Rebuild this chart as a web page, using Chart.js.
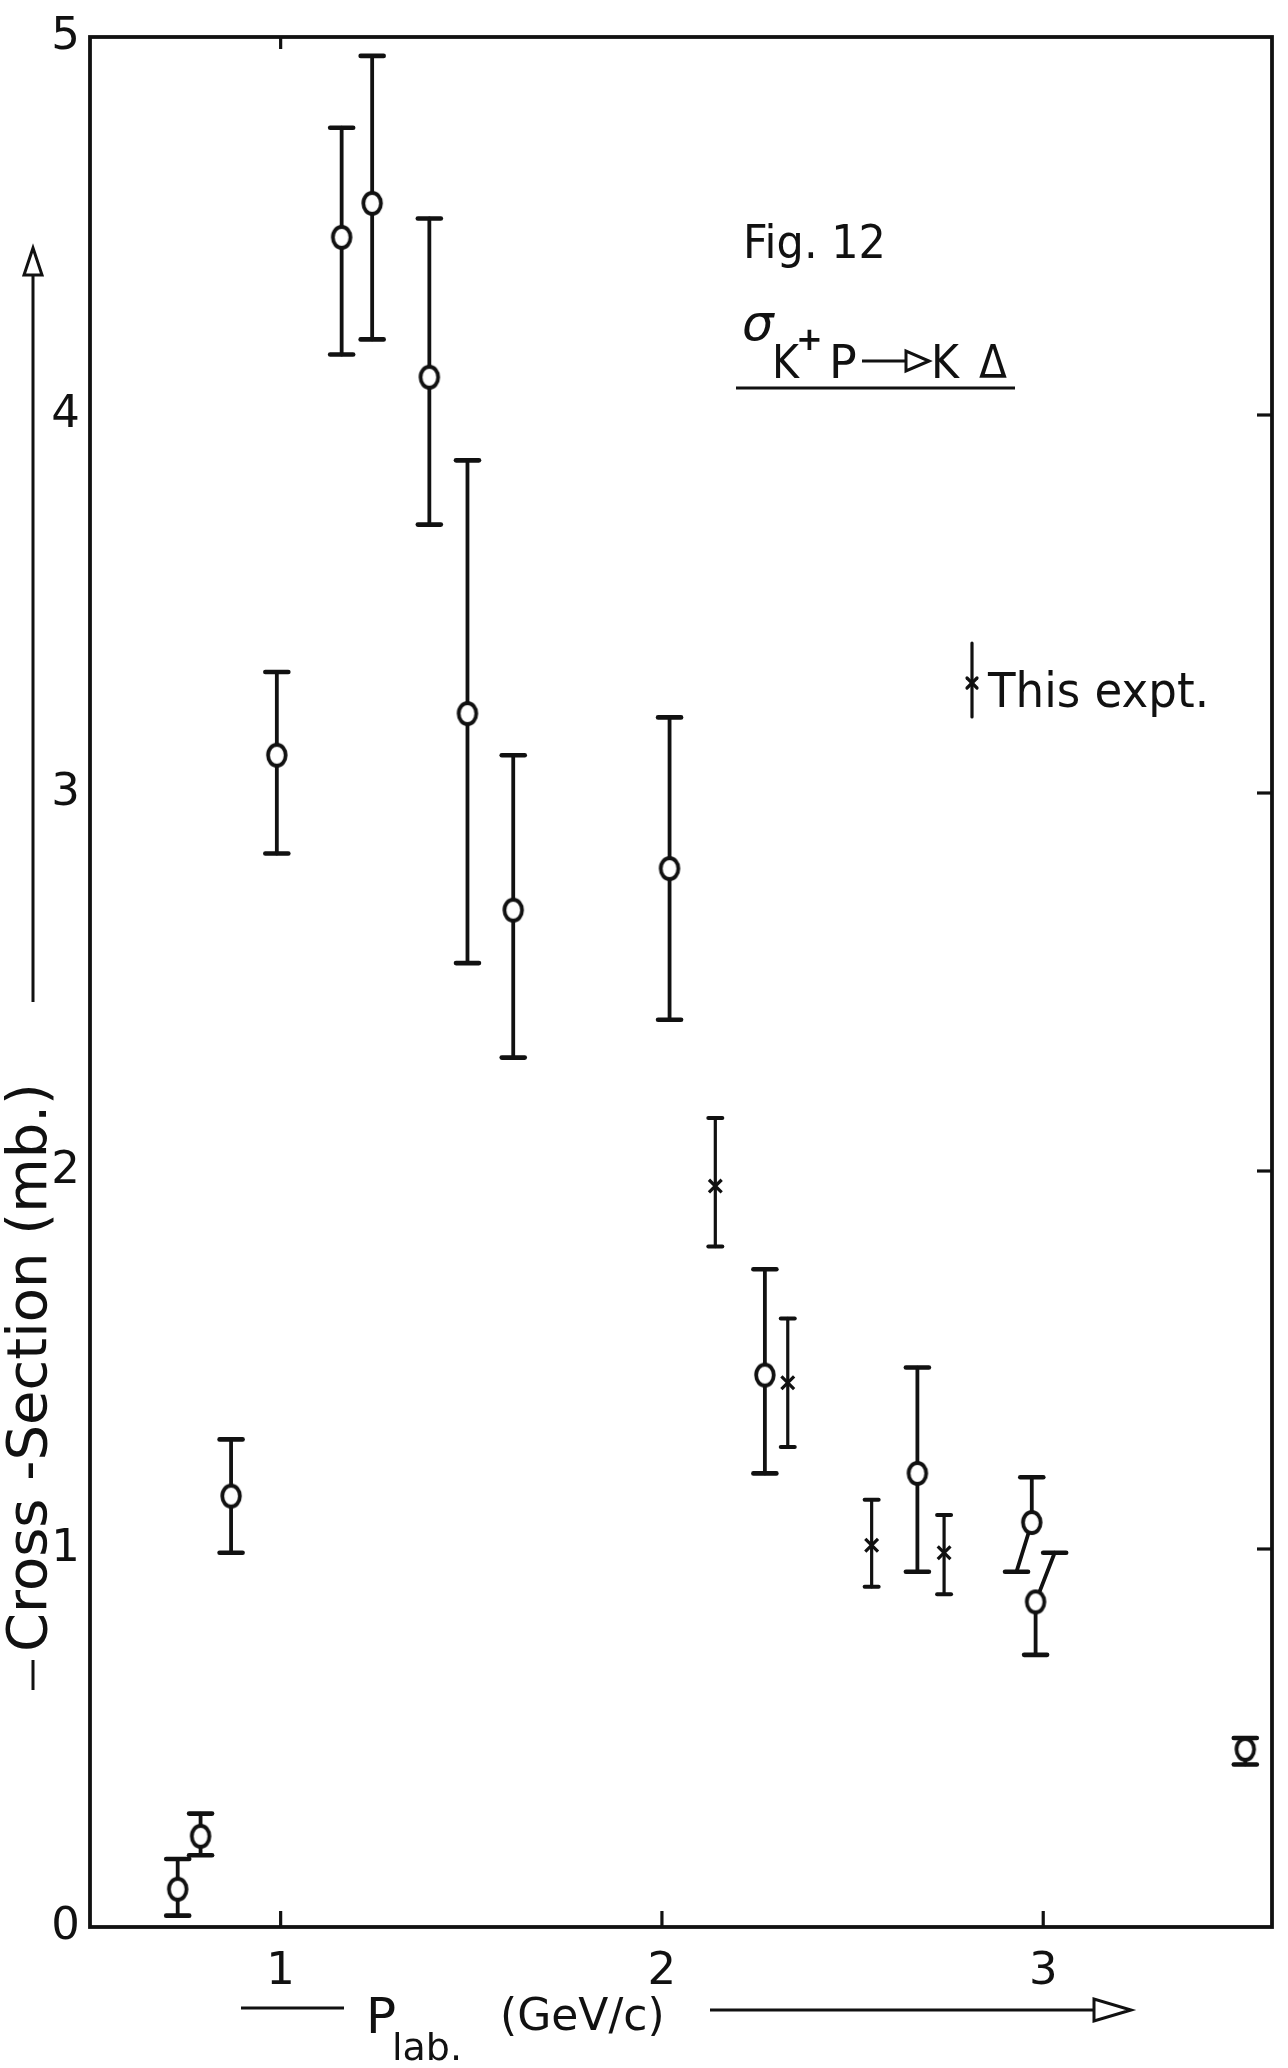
<!DOCTYPE html>
<html>
<head>
<meta charset="utf-8">
<title>K+p cross-section</title>
<script src="https://cdn.jsdelivr.net/npm/chart.js@4.4.1/dist/chart.umd.min.js"></script>
<style>
  html, body { margin: 0; padding: 0; background: #fff; }
  #wrap { width: 1288px; height: 2068px; }
</style>
</head>
<body>
<div id="wrap"><canvas id="fig" width="1288" height="2068"></canvas></div>
<script>
'use strict';

// ── Data: sigma(K+ p -> K Delta) in mb against P_lab in GeV/c ──
// earlier measurements (open circles)
const circP   = [0.73, 0.79, 0.87, 0.99, 1.16, 1.24, 1.39, 1.49, 1.61, 2.02, 2.27, 2.67, 2.97, 2.98, 3.53];
const circSig = [0.10, 0.24, 1.14, 3.10, 4.47, 4.56, 4.10, 3.21, 2.69, 2.80, 1.46, 1.20, 1.07, 0.86, 0.47];
const circLo  = [0.03, 0.19, 0.99, 2.84, 4.16, 4.20, 3.71, 2.55, 2.30, 2.40, 1.20, 0.94, 0.94, 0.72, 0.43];
const circHi  = [0.18, 0.30, 1.29, 3.32, 4.76, 4.95, 4.52, 3.88, 3.10, 3.20, 1.74, 1.48, 1.19, 0.99, 0.50];
// the two points at 3 GeV/c overlap, so one bar end of each is pushed sideways
const circLoCapP = [null, null, null, null, null, null, null, null, null, null, null, null, 2.93, null, null];
const circHiCapP = [null, null, null, null, null, null, null, null, null, null, null, null, null, 3.03, null];

// this experiment (crosses)
const crossP   = [2.14, 2.33, 2.55, 2.74];
const crossSig = [1.96, 1.44, 1.01, 0.99];
const crossLo  = [1.80, 1.27, 0.90, 0.88];
const crossHi  = [2.14, 1.61, 1.13, 1.09];

// axes
const xTicks      = [1, 2, 3];
const xTopTicks   = [1];
const yTicks      = [0, 1, 2, 3, 4, 5];
const yRightTicks = [1, 2, 3, 4];

// ── Style ─────────────────────────────────────────────────
const INK  = '#111';
const FONT = '"DejaVu Sans", "Liberation Sans", sans-serif';

function ring(rx, ry, lw) {
  const c = document.createElement('canvas');
  c.width  = Math.ceil(2 * rx + lw + 2);
  c.height = Math.ceil(2 * ry + lw + 2);
  const g = c.getContext('2d');
  g.fillStyle = '#fff';
  g.strokeStyle = INK;
  g.lineWidth = lw;
  g.beginPath();
  g.ellipse(c.width / 2, c.height / 2, rx, ry, 0, 0, Math.PI * 2);
  g.fill();
  g.stroke();
  return c;
}

function seg(ctx, x1, y1, x2, y2) {
  ctx.beginPath();
  ctx.moveTo(x1, y1);
  ctx.lineTo(x2, y2);
  ctx.stroke();
}

// open arrow head, pointing along (dx, dy)
function arrowHead(ctx, tx, ty, dx, dy, len, half) {
  const bx = tx - dx * len, by = ty - dy * len;
  ctx.beginPath();
  ctx.moveTo(tx, ty);
  ctx.lineTo(bx - dy * half, by + dx * half);
  ctx.lineTo(bx + dy * half, by - dx * half);
  ctx.closePath();
  ctx.stroke();
}

// ── Plugins ───────────────────────────────────────────────
const frame = {
  id: 'frame',
  beforeDatasetsDraw(chart) {
    const { ctx, chartArea: a, scales: { x, y } } = chart;
    ctx.save();
    ctx.strokeStyle = INK;
    ctx.lineWidth = 3.8;
    ctx.lineCap = 'square';
    ctx.strokeRect(a.left, a.top, a.width, a.height);
    ctx.lineWidth = 3.2;
    ctx.lineCap = 'butt';
    xTicks.forEach(v => {
      const px = x.getPixelForValue(v);
      seg(ctx, px, a.bottom, px, a.bottom - 16);
    });
    xTopTicks.forEach(v => {
      const px = x.getPixelForValue(v);
      seg(ctx, px, a.top, px, a.top + 12);
    });
    yRightTicks.forEach(v => {
      const py = y.getPixelForValue(v);
      seg(ctx, a.right, py, a.right - 15, py);
    });
    ctx.restore();
  }
};

const errorBars = {
  id: 'errorBars',
  beforeDatasetsDraw(chart) {
    const { ctx, scales: { x, y } } = chart;
    ctx.save();
    ctx.strokeStyle = INK;
    ctx.lineCap = 'round';
    chart.data.datasets.forEach(ds => {
      const e = ds.err;
      if (!e) return;
      ds.data.forEach((pt, i) => {
        const px  = x.getPixelForValue(pt.x);
        const py  = y.getPixelForValue(pt.y);
        const loX = x.getPixelForValue(e.loCap[i] ?? pt.x);
        const hiX = x.getPixelForValue(e.hiCap[i] ?? pt.x);
        const loY = y.getPixelForValue(e.lo[i]);
        const hiY = y.getPixelForValue(e.hi[i]);
        ctx.lineWidth = e.width;
        seg(ctx, px, py, hiX, hiY);
        seg(ctx, px, py, loX, loY);
        ctx.lineWidth = e.width + 0.8;
        seg(ctx, hiX - e.cap, hiY, hiX + e.cap, hiY);
        seg(ctx, loX - e.cap, loY, loX + e.cap, loY);
      });
    });
    ctx.restore();
  }
};

const notes = {
  id: 'notes',
  afterDraw(chart) {
    const { ctx } = chart;
    ctx.save();
    ctx.fillStyle = INK;
    ctx.strokeStyle = INK;
    ctx.textBaseline = 'alphabetic';
    ctx.textAlign = 'left';

    // figure number and reaction
    ctx.font = `46px ${FONT}`;
    ctx.fillText('Fig. 12', 743, 258, 143);
    ctx.font = `italic 50px ${FONT}`;
    ctx.fillText('σ', 742, 340);
    ctx.font = `46px ${FONT}`;
    ctx.fillText('K', 772, 378, 27);
    ctx.fillText('P', 829, 378, 29);
    ctx.fillText('K', 931, 378, 28);
    ctx.fillText('Δ', 979, 378, 28);
    ctx.font = `bold 32px ${FONT}`;
    ctx.fillText('+', 796, 350);
    ctx.lineWidth = 3;
    seg(ctx, 862, 361, 906, 361);
    arrowHead(ctx, 929, 361, 1, 0, 23, 10);
    seg(ctx, 736, 388, 1015, 388);

    // key
    ctx.lineWidth = 3.2;
    ctx.lineCap = 'round';
    seg(ctx, 972, 643, 972, 717);
    seg(ctx, 967, 678, 977, 688);
    seg(ctx, 967, 688, 977, 678);
    ctx.font = `48px ${FONT}`;
    ctx.fillText('This expt.', 988, 707, 221);

    // x axis title
    ctx.lineCap = 'butt';
    ctx.lineWidth = 3;
    seg(ctx, 241, 2008, 344, 2008);
    ctx.font = `50px ${FONT}`;
    ctx.fillText('P', 366, 2033, 32);
    ctx.font = `38px ${FONT}`;
    ctx.fillText('lab.', 392, 2060, 70);
    ctx.font = `44px ${FONT}`;
    ctx.fillText('(GeV/c)', 500, 2030, 194);
    seg(ctx, 710, 2010, 1094, 2010);
    arrowHead(ctx, 1131, 2010, 1, 0, 37, 11);

    // y axis title
    seg(ctx, 33, 1690, 33, 1660);
    seg(ctx, 33, 1002, 33, 276);
    arrowHead(ctx, 33, 248, 0, -1, 27, 9);
    ctx.translate(31, 1652);
    ctx.rotate(-Math.PI / 2);
    ctx.textBaseline = 'middle';
    ctx.font = `56px ${FONT}`;
    ctx.fillText('Cross -Section (mb.)', 0, 0, 645);
    ctx.restore();
  }
};

// ── Chart ─────────────────────────────────────────────────
Chart.defaults.font.family = FONT;
Chart.defaults.color = INK;

const circPts  = circP.map((p, i) => ({ x: p, y: circSig[i] }));
const crossPts = crossP.map((p, i) => ({ x: p, y: crossSig[i] }));

new Chart(document.getElementById('fig'), {
  type: 'scatter',
  data: {
    datasets: [
      {
        label: 'Other expts.',
        data: circPts,
        pointStyle: ring(8.8, 10.5, 3.8),
        pointRadius: 10,
        err: { lo: circLo, hi: circHi, loCap: circLoCapP, hiCap: circHiCapP, width: 3.8, cap: 11.5 }
      },
      {
        label: 'This expt.',
        data: crossPts,
        pointStyle: 'crossRot',
        pointRadius: 9,
        borderWidth: 3.2,
        borderColor: INK,
        err: { lo: crossLo, hi: crossHi, loCap: [], hiCap: [], width: 3.2, cap: 7 }
      }
    ]
  },
  options: {
    responsive: false,
    animation: false,
    events: [],
    layout: { padding: { left: 0, top: 28, right: 16, bottom: 0 } },
    plugins: { legend: { display: false }, tooltip: { enabled: false } },
    scales: {
      x: {
        type: 'linear',
        min: 0.5,
        max: 3.6,
        afterFit: s => { s.height = 141; },
        afterBuildTicks: s => { s.ticks = xTicks.map(v => ({ value: v })); },
        grid: { display: false, drawTicks: false },
        border: { display: false },
        ticks: { padding: 18, font: { size: 45 }, color: INK, maxRotation: 0 }
      },
      y: {
        type: 'linear',
        min: 0,
        max: 5,
        afterFit: s => { s.width = 90; },
        afterBuildTicks: s => { s.ticks = yTicks.map(v => ({ value: v })); },
        grid: { display: false, drawTicks: false },
        border: { display: false },
        ticks: { padding: 10, font: { size: 45 }, color: INK }
      }
    }
  },
  plugins: [frame, errorBars, notes]
});
</script>
</body>
</html>
